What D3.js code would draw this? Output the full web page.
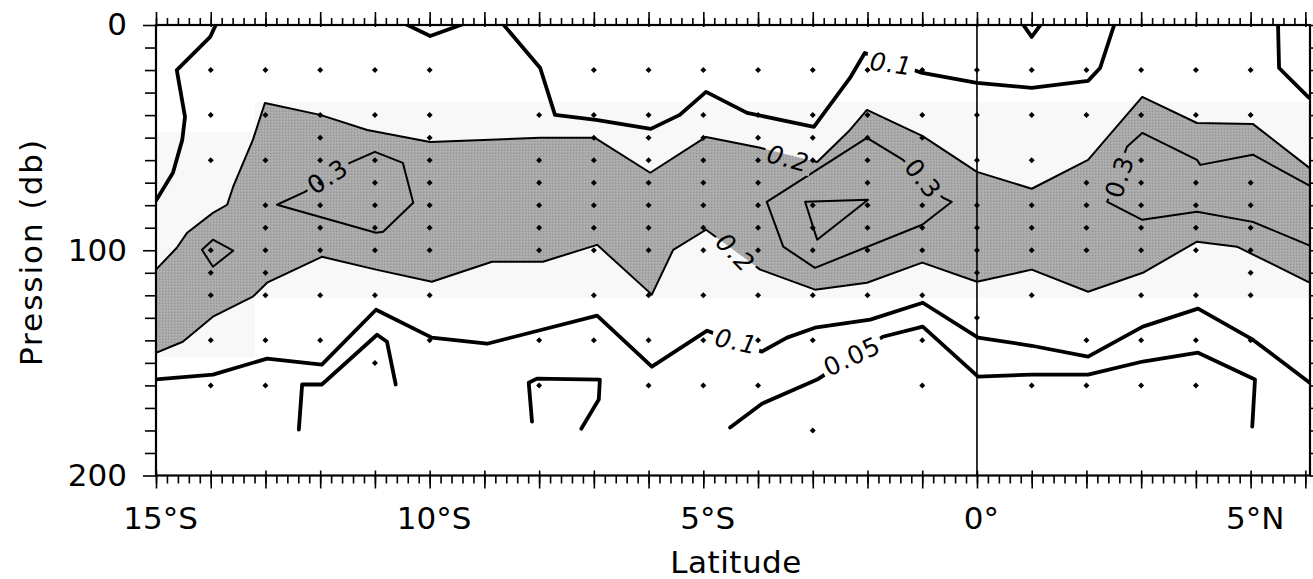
<!DOCTYPE html>
<html><head><meta charset="utf-8">
<script src="https://cdn.jsdelivr.net/npm/d3@7"></script>
<style>
html,body{margin:0;padding:0;background:#fff;}
svg{display:block;}
text{font-family:"DejaVu Sans","Liberation Sans",sans-serif;}
</style></head><body>
<svg id="chart" width="1313" height="579"></svg>
<script>
// ---- axis ticks ----
const latTicks = [-15, -10, -5, 0, 5];
const pressTicks = [0, 100, 200];

// ---- sampling stations (latitude, sampled pressures in db) ----
const stationLat = [-14,-13,-12,-11,-10,-8,-7,-6,-5,-4,-3,-2,-1,0,1,2,3,4,5];
const stationDepths = [
  [20,40,60,100,110,120,140,160],
  [20,40,60,80,90,100,110,120,140,160],
  [20,40,50,60,70,80,90,100,120,140],
  [20,40,60,70,80,90,100,120,150],
  [20,40,50,60,70,80,90,100,120,140],
  [40,60,70,80,90,100,140,160],
  [20,40,50,60,70,80,90,100,120,140],
  [20,40,50,60,70,80,90,100,120,140,160],
  [20,40,50,60,70,80,90,100,120,140,160],
  [20,40,50,60,70,80,90,100,120,140,160],
  [20,40,50,60,80,90,100,120,140,180],
  [20,40,50,60,70,80,90,100,120],
  [20,40,50,80,90,100,120,140,160],
  [20,40,60,80,90,100,110,130],
  [20,40,60,80,90,100,120,160],
  [20,40,70,80,90,100,140,160],
  [20,40,60,70,80,90,100,120,140,160],
  [20,40,70,80,90,100,120,140,160],
  [20,40,70,80,90,100,110,120,140]
];

// ---- isolines, as [latitude, pressure] vertices ----
// 0.2 isoline, upper and lower edges of the core (> 0.2)
const iso02Top = [[-15,108.6],[-14.62,98.9],[-14.43,92.2],[-13.96,83.4],[-13.70,79.8],[-13.59,71.8],[-13.23,51.0],[-13.01,34.6],[-12.00,39.9],[-11.14,46.6],[-9.99,51.9],[-7.98,50.1],[-6.98,50.1],[-5.97,65.6],[-4.95,49.7],[-3.96,54.5],[-2.92,60.8],[-2.32,46.6],[-2.01,37.7],[-1.00,49.2],[0.0,65.2],[1.0,72.7],[2.03,59.9],[3.02,31.9],[4.02,43.5],[5.04,43.9],[6.05,63.0],[6.4,72]];
const iso02Bottom = [[-15,145.5],[-14.51,140.6],[-13.96,129.5],[-13.23,120.6],[-12.97,114.4],[-11.97,102.9],[-10.98,108.6],[-9.96,114.0],[-8.86,105.1],[-7.93,105.1],[-6.94,97.6],[-5.94,119.7],[-5.55,99.8],[-4.95,90.9],[-3.96,108.6],[-2.96,117.5],[-2.01,114.4],[-1.00,105.5],[0.0,114.0],[1.0,108.6],[2.03,118.4],[3.03,110.0],[4.02,96.2],[4.75,98.4],[6.05,114.0],[6.4,117]];
// 0.3 isolines
const iso03West = [[-12.79,79.8],[-10.98,92.2],[-10.85,91.8],[-10.30,78.9],[-10.49,61.2],[-11.00,56.3],[-11.46,61.2],[-12.28,74.1],[-12.79,79.8]];
const iso03WestCore = [[-14.16,99.8],[-13.96,95.3],[-13.59,100.2],[-13.96,107.3],[-14.16,99.8]];
const iso03Central = [[-2.01,50.1],[-1.35,59.9],[-0.62,76.7],[-0.46,78.5],[-1.00,88.7],[-2.96,107.8],[-3.54,98.4],[-3.84,78.5],[-2.01,50.1]];
const iso03East = [[6.4,74],[6.05,71.0],[5.04,57.6],[4.08,62.1],[4.02,59.9],[3.02,47.9],[2.74,54.1],[2.38,78.5],[3.02,86.5],[4.02,82.9],[5.04,87.4],[6.05,97.6],[6.4,101]];
// 0.4 core
const iso04Central = [[-3.14,78.5],[-1.99,77.6],[-2.92,95.3],[-3.14,78.5]];
// 0.1 isolines
const iso01West = [[-13.89,-1],[-14.01,5.3],[-14.62,20],[-14.47,40.8],[-14.52,51],[-14.69,65.6],[-15.05,80]];
const iso01Notch10S = [[-10.49,-1],[-9.99,4.9],[-9.32,-1]];
const iso01Upper = [[-8.68,-1],[-7.98,19.1],[-7.71,39.9],[-6.96,42.1],[-5.96,46.1],[-5.43,39.9],[-4.95,29.7],[-4.20,39.0],[-2.98,45.2],[-2.32,23.5],[-2.05,12.4],[-1.00,21.3],[0.0,25.7],[1.0,27.9],[2.03,24.8],[2.25,19.1],[2.52,-1]];
const iso01NotchEq = [[0.82,-1],[1.0,5.3],[1.19,-1]];
const iso01East = [[5.50,-1],[5.52,19.1],[6.05,31.9],[6.4,38]];
const iso01Lower = [[-15.05,157.4],[-13.96,155.2],[-12.97,148.1],[-11.97,150.8],[-10.98,126.4],[-9.96,138.8],[-8.95,141.5],[-7.95,135.3],[-6.94,129.0],[-5.94,151.7],[-4.93,135.7],[-3.93,145.0],[-3.47,138.8],[-2.96,134.4],[-1.95,130.8],[-0.99,123.3],[0.02,138.8],[1.0,142.4],[2.03,147.2],[3.03,133.9],[4.04,125.9],[5.04,139.7],[6.05,158.3],[6.4,164]];
// 0.05 isolines
const iso005 = [[-4.51,178.7],[-3.93,168.1],[-2.92,157.4],[-1.72,138.4],[-0.99,133.9],[0.02,156.1],[1.0,155.2],[2.03,155.2],[3.03,149.4],[4.04,145.5],[5.08,157.4],[5.03,178.3]];
const iso005West = [[-12.39,179.6],[-12.33,159.6],[-11.97,159.6],[-10.96,137.5],[-10.78,140.6],[-10.62,159.6]];
const iso005Mid = [[-8.13,176.1],[-8.19,158.8],[-8.04,157.0],[-6.89,157.4],[-6.91,166.3],[-7.23,179.2]];

const isolines = [
  {level: 0.2, pts: iso02Top}, {level: 0.2, pts: iso02Bottom},
  {level: 0.3, pts: iso03West}, {level: 0.3, pts: iso03WestCore},
  {level: 0.3, pts: iso03Central}, {level: 0.3, pts: iso03East},
  {level: 0.4, pts: iso04Central},
  {level: 0.1, pts: iso01West}, {level: 0.1, pts: iso01Notch10S},
  {level: 0.1, pts: iso01Upper}, {level: 0.1, pts: iso01NotchEq},
  {level: 0.1, pts: iso01East}, {level: 0.1, pts: iso01Lower},
  {level: 0.05, pts: iso005}, {level: 0.05, pts: iso005West}, {level: 0.05, pts: iso005Mid}
];

// isoline labels: text, latitude, pressure, rotation
const labelText  = ["0.3", "0.3", "0.3", "0.2", "0.2", "0.1", "0.1", "0.05"];
const labelLat   = [-11.86, -0.99, 2.61, -3.45, -4.42, -1.57, -4.40, -2.28];
const labelPress = [67.4, 68.3, 67.4, 59.4, 101.1, 17.3, 140.6, 147.2];
const labelAngle = [-33, 52, -72, 15, 45, 8, 12, -25];

// ---- layout ----
const W = 1313, H = 579;
const M = {left: 156, right: 1310, top: 25, bottom: 475.5};
const x = d3.scaleLinear().domain([-15, 6.085]).range([M.left, M.right]);
const y = d3.scaleLinear().domain([0, 200]).range([M.top, M.bottom]);
const line = d3.line().x(d => x(d[0])).y(d => y(d[1]));

const svg = d3.select("#chart");
const defs = svg.append("defs");
defs.append("clipPath").attr("id", "plotClip").append("rect")
  .attr("x", M.left).attr("y", M.top)
  .attr("width", M.right - M.left).attr("height", M.bottom - M.top);

// halftone-like grey for the > 0.2 core
const pat = defs.append("pattern").attr("id", "stipple")
  .attr("width", 3).attr("height", 3).attr("patternUnits", "userSpaceOnUse");
pat.append("rect").attr("width", 3).attr("height", 3).attr("fill", "#a9a9a9");
pat.append("rect").attr("width", 1).attr("height", 1).attr("fill", "#939393");
pat.append("rect").attr("x", 2).attr("y", 1).attr("width", 1).attr("height", 1).attr("fill", "#b8b8b8");

const mask = defs.append("mask").attr("id", "labelGaps")
  .attr("maskUnits", "userSpaceOnUse").attr("x", 0).attr("y", 0).attr("width", W).attr("height", H);
mask.append("rect").attr("width", W).attr("height", H).attr("fill", "white");

const plot = svg.append("g").attr("clip-path", "url(#plotClip)");

// faint background band
plot.append("rect").attr("x", x(-13.19)).attr("y", y(34.2))
  .attr("width", x(6.085) - x(-13.19)).attr("height", y(121.2) - y(34.2)).attr("fill", "#f8f8f8");
plot.append("rect").attr("x", x(-15)).attr("y", y(47.5))
  .attr("width", x(-13.19) - x(-15)).attr("height", y(147.4) - y(47.5)).attr("fill", "#f8f8f8");

// shaded core
plot.append("path")
  .attr("d", line(iso02Top.concat(iso02Bottom.slice().reverse())) + "Z")
  .attr("fill", "url(#stipple)");

// equator
plot.append("line").attr("x1", x(0)).attr("x2", x(0)).attr("y1", y(0)).attr("y2", y(200))
  .attr("stroke", "#000").attr("stroke-width", 1.6);

// isolines
const lines = plot.append("g").attr("mask", "url(#labelGaps)");
lines.selectAll("path").data(isolines).join("path")
  .attr("d", d => line(d.pts))
  .attr("fill", "none").attr("stroke", "#000")
  .attr("stroke-linejoin", "round").attr("stroke-linecap", "round")
  .attr("stroke-width", d => d.level <= 0.1 ? 3.8 : 2.0);

// isoline labels, with a gap cut in the line under each
const labels = svg.append("g");
labelText.forEach((t, i) => {
  const tr = `translate(${x(labelLat[i])},${y(labelPress[i])}) rotate(${labelAngle[i]})`;
  const g = labels.append("g").attr("transform", tr);
  const txt = g.append("text").text(t)
    .attr("text-anchor", "middle").attr("dominant-baseline", "central")
    .style("font-size", "25px").style("letter-spacing", "1px")
    .style("font-style", t === "0.1" || t === "0.2" ? "italic" : "normal");
  const b = txt.node().getBBox();
  mask.append("rect").attr("transform", tr)
    .attr("x", b.x - 3).attr("y", b.y + 3).attr("width", b.width + 6).attr("height", b.height - 6)
    .attr("fill", "black");
});

// station samples
const dot = d3.symbol().type(d3.symbolSquare).size(18);
const pts = [];
stationLat.forEach((lat, i) => stationDepths[i].forEach(p => pts.push([lat, p])));
svg.append("g").selectAll("path").data(pts).join("path")
  .attr("transform", d => `translate(${x(d[0])},${y(d[1])}) rotate(45)`)
  .attr("d", dot).attr("fill", "#000");

// ---- axes ----
const minorLat = d3.range(0, 106).map(i => +(-15 + i * 0.2).toFixed(2)).filter(v => v <= 6.05);
const majorLat = d3.range(-15, 7);
const pressMinor = d3.range(0, 201, 10);
const tickStyle = g => {
  g.select(".domain").remove();
  g.selectAll("line").attr("stroke", "#000").attr("stroke-width", 1.6);
};
const fmtLat = v => v < 0 ? `${-v}°S` : (v === 0 ? "0°" : `${v}°N`);

svg.append("g").attr("transform", `translate(0,${M.top})`)
  .call(d3.axisTop(x).tickValues(minorLat).tickSize(7).tickFormat("")).call(tickStyle);
svg.append("g").attr("transform", `translate(0,${M.top})`)
  .call(d3.axisTop(x).tickValues(majorLat).tickSize(13).tickFormat("")).call(tickStyle)
  .call(g => g.selectAll("line").attr("y1", 2));

svg.append("g").attr("transform", `translate(0,${M.bottom})`)
  .call(d3.axisBottom(x).tickValues(minorLat).tickSize(8).tickFormat("")).call(tickStyle);
svg.append("g").attr("transform", `translate(0,${M.bottom})`)
  .call(d3.axisBottom(x).tickValues(majorLat).tickSize(13).tickFormat("")).call(tickStyle)
  .call(g => g.selectAll("line").attr("y1", -5));
svg.append("g").attr("transform", `translate(0,${M.bottom})`)
  .call(d3.axisBottom(x).tickValues(latTicks).tickSize(0).tickPadding(31).tickFormat(fmtLat))
  .call(tickStyle)
  .call(g => g.selectAll("text").attr("dx", 4).attr("fill", "#000")
    .style("font-size", "31px").style("font-family", '"DejaVu Sans",sans-serif'));

svg.append("g").attr("transform", `translate(${M.left},0)`)
  .call(d3.axisLeft(y).tickValues(pressMinor).tickSize(11).tickFormat("")).call(tickStyle)
  .call(g => g.selectAll("line").filter(d => d % 100 === 0).attr("x2", -13));
svg.append("g").attr("transform", `translate(${M.left},0)`)
  .call(d3.axisLeft(y).tickValues(pressTicks).tickSize(0).tickPadding(29).tickFormat(d3.format("d")))
  .call(tickStyle)
  .call(g => g.selectAll("text").attr("fill", "#000")
    .style("font-size", "31px").style("font-family", '"DejaVu Sans",sans-serif'));
svg.append("g").attr("transform", `translate(${M.right},0)`)
  .call(d3.axisRight(y).tickValues(pressMinor).tickSize(8).tickFormat("")).call(tickStyle);

// frame
svg.append("rect").attr("x", M.left).attr("y", M.top)
  .attr("width", M.right - M.left).attr("height", M.bottom - M.top)
  .attr("fill", "none").attr("stroke", "#000").attr("stroke-width", 2.2);

// axis titles
svg.append("text").attr("x", 736).attr("y", 573).attr("text-anchor", "middle")
  .style("font-size", "31px").style("letter-spacing", "0.5px").text("Latitude");
svg.append("text").attr("transform", "translate(42,252) rotate(-90)").attr("text-anchor", "middle")
  .style("font-size", "31px").style("letter-spacing", "2px").text("Pression (db)");
</script></body></html>
